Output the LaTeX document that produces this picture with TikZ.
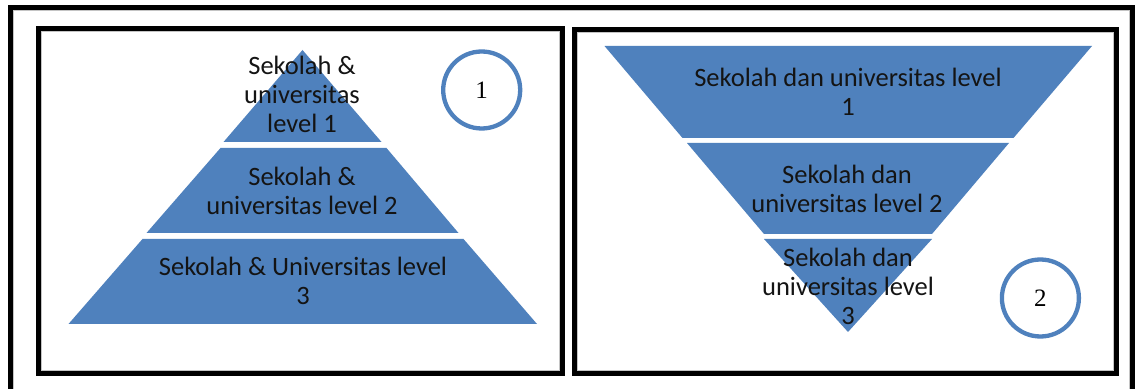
\documentclass[tikz,border=0pt]{standalone}
\usepackage{fontspec}
\setmainfont{Carlito}
\newfontfamily\numfont{Liberation Serif}
\definecolor{tierblue}{HTML}{4F81BD}
\definecolor{framegray}{HTML}{C4C4C4}
\definecolor{txt}{HTML}{141414}
\tikzset{
  frameline/.style={draw=black, line width=2.5pt},
  innerline/.style={draw=framegray, line width=0.5pt},
  tier/.style={fill=tierblue},
  lbl/.style={text=txt, align=center, inner sep=0pt, font=\fontsize{13.25}{14.5}\selectfont},
  numcircle/.style={circle, draw=tierblue, line width=2.15pt, minimum size=38.5pt, inner sep=0pt, fill=white, font=\numfont\fontsize{12.5}{14}\selectfont}
}
\begin{document}
\begin{tikzpicture}[x=0.5pt, y=-0.5pt]
\useasboundingbox (0,0) rectangle (1135,389);
\fill[white] (0,0) rectangle (1135,389);
% outer frame
\draw[frameline] (10.7,392) -- (10.7,7.3) -- (1132,7.3) -- (1132,392);
\draw[innerline] (13.6,392) -- (13.6,10.2) -- (1129.1,10.2) -- (1129.1,392);
% panels
\draw[frameline] (38.2,29) rectangle (562.5,373.2);
\draw[innerline] (41,31.8) rectangle (559.7,370.4);
\draw[frameline] (574.2,29.5) rectangle (1116,373.2);
\draw[innerline] (577,32.3) rectangle (1113.2,370.4);
% left pyramid
\path[tier] (302.5,50) -- (381.5,142) -- (223.5,142) -- cycle;
\path[tier] (220.5,148) -- (386.5,148) -- (458.5,233) -- (146.5,233) -- cycle;
\path[tier] (142.5,239) -- (463.5,239) -- (537,324) -- (68.5,324) -- cycle;
\node[lbl] (l1) at (302,94) {Sekolah \&\\universitas\\level 1};
\node[lbl] (l2) at (302,190.5) {Sekolah \&\\universitas level 2};
\node[lbl] (l3) at (303,281) {Sekolah \& Universitas level\\3};
\node[numcircle] (c1) at (481.7,90) {1};
% right inverted pyramid
\path[tier] (604.5,46) -- (1092,46) -- (1013.5,138) -- (682.5,138) -- cycle;
\path[tier] (687,143) -- (1009,143) -- (932,234) -- (764,234) -- cycle;
\path[tier] (764,239) -- (932,239) -- (848,332) -- cycle;
\node[lbl] (r1) at (848,92) {Sekolah dan universitas level\\1};
\node[lbl] (r2) at (847,189) {Sekolah dan\\universitas level 2};
\node[lbl] (r3) at (848,286) {Sekolah dan\\universitas level\\3};
\node[numcircle] (c2) at (1040.4,298) {2};
\end{tikzpicture}
\end{document}
